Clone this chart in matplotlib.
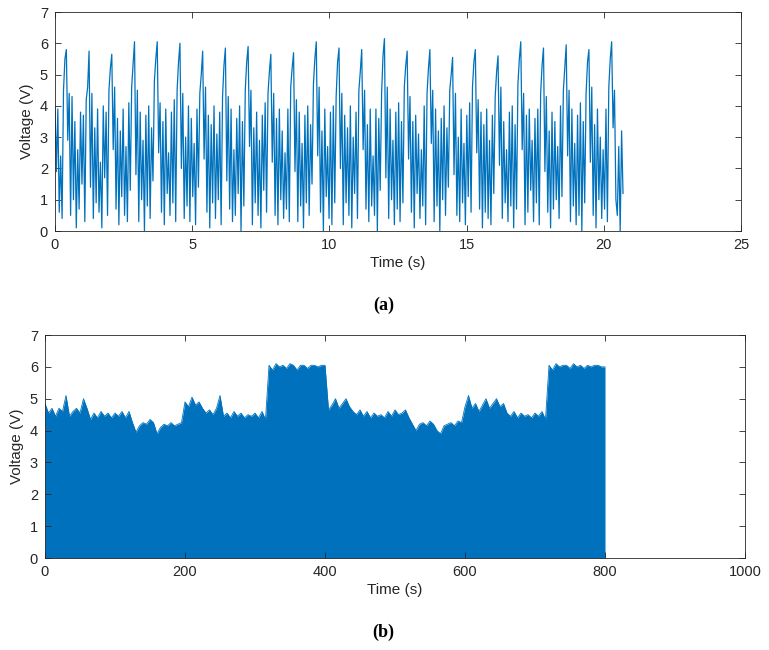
import numpy as np
import matplotlib.pyplot as plt

# Estilo tipo MATLAB
plt.rcParams['font.family'] = ['Liberation Sans', 'DejaVu Sans']
plt.rcParams['axes.linewidth'] = 0.6

LINE_COLOR = '#0072BD'
AXIS_COLOR = '#262626'

# (a) Senal de voltaje, 0 - 20.7 s
voltage_pre = [4.0, 1.9, 3.9, 0.6, 2.4, 0.4, 4.5, 5.5]
voltage_cycles = [
    [5.80, 2.9, 4.4, 0.5, 4.3, 1.0, 3.5, 0.1, 2.6, 0.7, 3.8, 1.5, 3.7, 0.3, 4.2, 4.6],
    [5.75, 1.4, 4.4, 0.4, 3.3, 0.9, 3.9, 0.6, 2.2, 0.1, 4.0, 1.7, 3.8, 0.5, 4.5, 5.2],
    [5.65, 2.6, 4.6, 0.7, 3.6, 0.2, 3.2, 1.1, 3.9, 0.5, 2.7, 0.3, 4.1, 1.3, 4.6, 5.3],
    [6.05, 1.8, 4.5, 0.3, 3.8, 1.0, 2.9, 0.0, 3.7, 0.8, 4.0, 0.4, 3.3, 1.6, 4.8, 5.5],
    [6.05, 2.5, 4.1, 0.6, 3.5, 0.2, 3.9, 1.2, 2.5, 0.5, 3.8, 0.9, 4.2, 0.3, 4.5, 5.4],
    [6.00, 2.0, 4.4, 0.4, 3.0, 0.8, 4.0, 0.3, 3.6, 1.1, 2.8, 0.2, 3.9, 1.4, 4.4, 5.0],
    [5.75, 2.3, 4.6, 0.6, 3.7, 0.1, 3.4, 0.9, 4.0, 0.4, 3.1, 1.0, 3.8, 0.2, 4.3, 5.3],
    [5.85, 1.6, 4.3, 0.7, 3.9, 0.3, 2.6, 0.5, 3.6, 1.2, 4.0, 0.0, 3.5, 0.8, 4.5, 5.4],
    [5.90, 2.7, 4.5, 0.2, 3.3, 0.9, 3.8, 0.5, 2.9, 0.1, 3.7, 1.3, 4.1, 0.6, 4.4, 5.1],
    [5.65, 2.2, 4.4, 0.5, 3.6, 0.2, 3.9, 1.0, 3.2, 0.4, 2.5, 0.7, 3.9, 0.3, 4.6, 5.2],
    [5.70, 1.9, 4.2, 0.3, 3.8, 0.8, 2.8, 0.1, 3.7, 0.9, 4.0, 0.5, 3.4, 1.5, 4.7, 5.5],
    [6.05, 2.4, 4.6, 0.6, 3.2, 0.0, 3.9, 1.1, 2.7, 0.4, 3.8, 0.2, 4.0, 0.9, 4.3, 5.4],
    [5.85, 2.0, 4.4, 0.2, 3.7, 0.9, 3.3, 0.5, 4.0, 0.1, 3.0, 1.2, 3.8, 0.4, 4.5, 5.1],
    [5.80, 2.6, 4.5, 0.7, 3.4, 0.3, 3.9, 0.8, 2.4, 0.5, 3.9, 0.0, 3.6, 1.3, 4.4, 5.6],
    [6.15, 1.7, 4.6, 0.4, 3.9, 1.0, 2.9, 0.2, 3.8, 0.7, 4.1, 0.3, 3.5, 0.9, 4.6, 5.3],
    [5.75, 2.3, 4.3, 0.6, 3.5, 0.1, 3.7, 1.2, 3.1, 0.4, 2.6, 0.8, 4.0, 0.2, 4.4, 5.2],
    [5.80, 2.8, 4.5, 0.3, 3.9, 0.8, 3.2, 0.0, 3.6, 1.0, 4.0, 0.5, 3.3, 1.4, 4.5, 5.0],
    [5.55, 1.8, 4.4, 0.5, 3.0, 0.3, 3.9, 0.9, 2.8, 0.2, 3.7, 1.1, 4.1, 0.6, 4.6, 5.4],
    [5.80, 2.5, 4.2, 0.7, 3.8, 0.1, 3.4, 0.6, 3.9, 0.4, 2.9, 0.2, 3.7, 1.2, 4.3, 5.1],
    [5.60, 2.1, 4.6, 0.4, 3.5, 0.9, 2.6, 0.3, 3.8, 0.8, 4.0, 0.1, 3.4, 0.7, 4.7, 5.5],
    [6.05, 2.6, 4.4, 0.2, 3.7, 0.6, 3.9, 1.3, 2.9, 0.3, 3.6, 0.9, 3.9, 0.2, 4.4, 5.3],
    [5.85, 1.9, 4.3, 0.6, 3.2, 0.1, 3.8, 0.7, 3.5, 1.0, 2.7, 0.4, 4.0, 1.1, 4.5, 5.2],
    [5.95, 2.4, 4.5, 0.3, 3.9, 0.8, 2.8, 0.2, 3.7, 0.5, 4.1, 0.0, 3.5, 0.9, 4.4, 5.4],
    [5.80, 2.2, 4.6, 0.5, 3.4, 0.1, 3.9, 1.0, 3.0, 0.4, 2.6, 0.7, 3.9, 0.3, 4.6, 5.5],
]
voltage_tail = [6.05, 3.3, 4.5, 1.0, 0.5, 2.7, 0.0, 3.2, 1.2]
T_END_A = 20.7

# (b) Envolvente superior de la senal larga, cada 5 s de 0 a 800 s
env_time = list(range(0, 805, 5))
env_upper = [
    4.85, 4.55, 4.70, 4.45, 4.70, 4.60, 5.10, 4.45, 4.60, 4.70, 4.55,   # 0-50
    5.00, 4.70, 4.35, 4.55, 4.40, 4.60, 4.45, 4.55, 4.40, 4.55,         # 55-100
    4.45, 4.60, 4.40, 4.60, 4.25, 3.95, 4.15, 4.25, 4.20, 4.35,         # 105-150
    4.25, 3.90, 4.10, 4.20, 4.15, 4.25, 4.15, 4.20, 4.25, 4.90,         # 155-200
    4.75, 5.05, 4.80, 4.90, 4.70, 4.55, 4.65, 4.50, 4.70, 5.10,         # 205-250
    4.45, 4.55, 4.40, 4.60, 4.45, 4.55, 4.40, 4.50, 4.45, 4.55,         # 255-300
    4.40, 4.60, 4.35, 6.05, 5.90, 6.10, 6.00, 6.05, 5.95, 6.10,         # 305-350
    6.05, 5.90, 6.05, 6.05, 5.95, 6.05, 6.05, 6.00, 6.05, 6.05,         # 355-400
    4.65, 4.80, 5.00, 4.70, 4.85, 5.00, 4.75, 4.60, 4.50, 4.65,         # 405-450
    4.45, 4.60, 4.40, 4.55, 4.45, 4.50, 4.40, 4.60, 4.45, 4.65,         # 455-500
    4.50, 4.55, 4.65, 4.40, 4.20, 4.00, 4.20, 4.25, 4.15, 4.30,         # 505-550
    4.20, 4.00, 3.90, 4.15, 4.20, 4.25, 4.15, 4.30, 4.25, 4.75,         # 555-600
    5.10, 4.70, 4.85, 4.60, 4.80, 5.00, 4.70, 4.85, 5.00, 4.75,         # 605-650
    4.85, 4.55, 4.45, 4.60, 4.40, 4.55, 4.45, 4.50, 4.40, 4.55,         # 655-700
    4.45, 4.60, 4.35, 6.05, 5.90, 6.10, 6.00, 6.05, 6.05, 5.95,         # 705-750
    6.10, 6.00, 6.05, 5.95, 6.05, 6.00, 6.05, 6.05, 6.00, 6.00,         # 755-800
]


def style_axes(ax, xlim, xticks):
    """Ejes con caja y ticks hacia dentro, como en MATLAB."""
    ax.set_xlim(*xlim)
    ax.set_ylim(0, 7)
    ax.set_xticks(xticks)
    ax.set_yticks(range(0, 8))
    ax.tick_params(direction='in', top=True, right=True, length=4,
                   width=0.6, colors=AXIS_COLOR, labelsize=10.5, pad=5)
    for spine in ax.spines.values():
        spine.set_color(AXIS_COLOR)
    ax.set_xlabel('Time (s)', fontsize=11, color=AXIS_COLOR, labelpad=3)
    ax.set_ylabel('Voltage (V)', fontsize=11, color=AXIS_COLOR, labelpad=4)


fig = plt.figure(figsize=(7.69, 6.5), dpi=100)

# Panel (a)
ax1 = fig.add_axes([0.0715, 0.6446, 0.8921, 0.3369])
volt_a = list(voltage_pre)
for row in voltage_cycles:
    volt_a += row
volt_a += voltage_tail
time_a = np.linspace(0, T_END_A, len(volt_a))
ax1.plot(time_a, volt_a, color=LINE_COLOR, linewidth=0.9)
style_axes(ax1, (0, 25), range(0, 30, 5))

# Panel (b): banda densa dibujada como relleno bajo la envolvente
ax2 = fig.add_axes([0.0585, 0.1415, 0.9103, 0.3431])
ax2.fill_between(env_time, 0, env_upper, color=LINE_COLOR, linewidth=0)
ax2.plot(env_time, env_upper, color=LINE_COLOR, linewidth=0.6)
style_axes(ax2, (0, 1000), range(0, 1200, 200))

# Etiquetas de subfigura
fig.text(0.4985, 0.531, '(a)', ha='center', va='center',
         family=['Liberation Serif', 'DejaVu Serif'], fontsize=13,
         fontweight='bold')
fig.text(0.4985, 0.027, '(b)', ha='center', va='center',
         family=['Liberation Serif', 'DejaVu Serif'], fontsize=13,
         fontweight='bold')

fig.savefig('out.png', dpi=100)
